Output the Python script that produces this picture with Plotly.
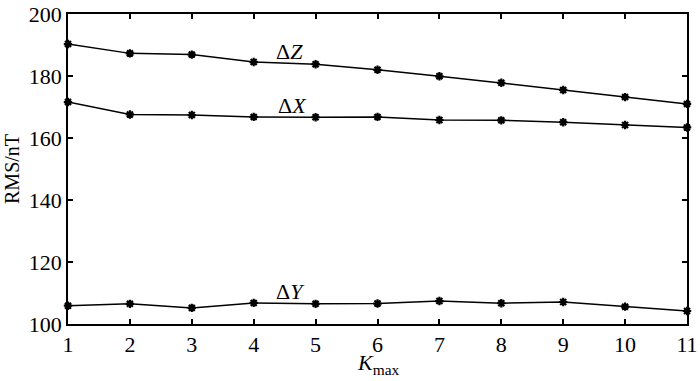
import plotly.graph_objects as go

kmax = [1, 2, 3, 4, 5, 6, 7, 8, 9, 10, 11]
dZ = [190.3, 187.3, 186.9, 184.5, 183.8, 182.0, 179.9, 177.8, 175.5, 173.2, 171.0]
dX = [171.6, 167.6, 167.4, 166.8, 166.7, 166.8, 165.8, 165.7, 165.1, 164.2, 163.4]
dY = [105.9, 106.5, 105.2, 106.8, 106.5, 106.6, 107.4, 106.7, 107.1, 105.6, 104.2]
labels = ["Δ<i>Z</i>", "Δ<i>X</i>", "Δ<i>Y</i>"]
label_pos = [(4.58, 187.9), (4.63, 170.5), (4.6, 110.4)]

FONT = "Liberation Serif, Times New Roman, serif"
FS = 22

fig = go.Figure()
for ys in (dZ, dX, dY):
    fig.add_trace(go.Scatter(
        x=kmax, y=ys, mode="lines+markers",
        line=dict(color="black", width=1.5),
        marker=dict(symbol="asterisk", size=7, color="black",
                    line=dict(width=2.2, color="black")),
        showlegend=False, cliponaxis=False))

for txt, (lx, ly) in zip(labels, label_pos):
    fig.add_annotation(x=lx, y=ly, text=txt, showarrow=False,
                       font=dict(family=FONT, size=FS, color="black"))

# axis titles
fig.add_annotation(xref="paper", yref="paper", x=0.5, y=-0.13,
                   xanchor="center", yanchor="middle", showarrow=False,
                   text="<i>K</i><sub>max</sub>",
                   font=dict(family=FONT, size=FS, color="black"))
fig.add_annotation(xref="paper", yref="paper", x=-0.0905, y=0.5,
                   xanchor="center", yanchor="middle", showarrow=False,
                   text="RMS/nT", textangle=-90,
                   font=dict(family=FONT, size=20, color="black"))

axis_common = dict(showline=True, linecolor="black", linewidth=1.5, mirror="ticks",
                   ticks="inside", ticklen=5, tickwidth=1.5, tickcolor="black",
                   showgrid=False, zeroline=False, automargin=False,
                   tickfont=dict(family=FONT, size=FS, color="black"))

fig.update_xaxes(range=[1, 11], tickvals=kmax, **axis_common)
fig.update_yaxes(range=[100, 200], tickvals=[100, 120, 140, 160, 180, 200],
                 **axis_common)

fig.update_layout(width=700, height=381, margin=dict(l=68, r=13, t=14, b=57),
                  plot_bgcolor="white", paper_bgcolor="white")
fig.write_html("out.html", config={"displayModeBar": False},
               post_script="document.body.style.margin='0';document.body.style.overflow='hidden';")
